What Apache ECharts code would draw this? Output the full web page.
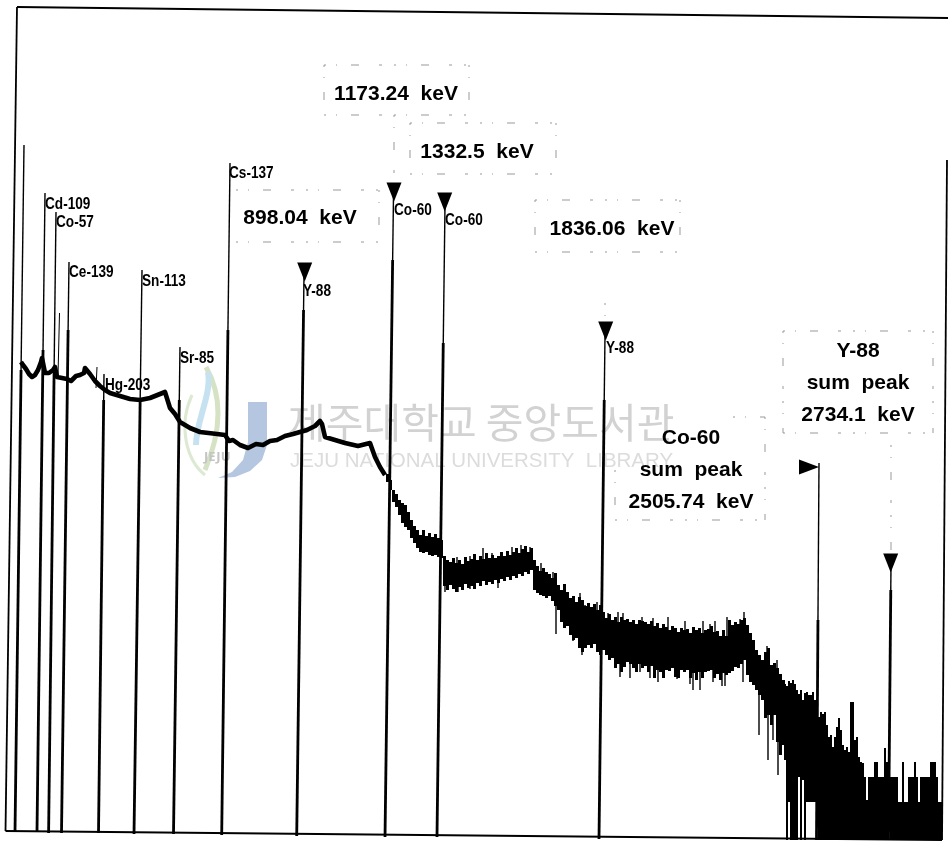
<!DOCTYPE html>
<html>
<head>
<meta charset="utf-8">
<title>spectrum</title>
<script src="https://cdn.jsdelivr.net/npm/echarts@6/dist/echarts.min.js"></script>
<style>
html, body { margin: 0; padding: 0; background: #fff; }
#main { width: 948px; height: 842px; }
</style>
</head>
<body>
<div id="main"></div>
<script>
// smooth low energy part of the spectrum
var curveX = [21, 23, 26, 29, 32, 35, 38, 41, 42, 45, 49, 53, 55, 57, 62, 67, 71, 73, 76, 80, 84, 85, 90, 95, 100, 105, 110, 120, 130, 140, 150, 160, 165, 167, 170, 175, 180, 190, 200, 217, 225, 229, 233, 240, 248, 256, 263, 270, 277, 285, 293, 300, 307, 315, 320, 322, 325, 335, 345, 358, 370, 375, 380, 385];
var curveY = [362, 365, 369, 374, 377, 375, 370, 362, 358, 373, 373, 370, 367, 377, 378, 379, 381, 380, 376, 375, 373, 368, 374, 381, 386, 390, 393, 396, 399, 400, 398, 394, 392, 394, 408, 414, 422, 428, 432, 434, 435, 441, 440, 445, 448, 444, 445, 441, 440, 436, 434, 432, 430, 426, 421, 424, 437, 440, 443, 446, 443, 457, 467, 475];

// noisy part, one channel every 3 px from noiseStart
var noiseStart = 386;
var noiseHi = [474, 480, 490, 494, 500, 503, 505, 512, 520, 526, 530, 535, 530, 536, 533, 537, 534, 538, 540,
  556, 560, 562, 558, 563, 560, 564, 557, 561, 559, 554, 560, 556, 559, 553, 558, 555, 558, 556, 552, 556, 551, 555, 552, 548, 553, 549, 546, 552, 548, 560, 566, 571,
  568, 572, 574, 578, 573, 585, 590, 584, 592, 598, 596, 602, 597, 600, 606, 603, 607, 604, 610, 605, 612,
  618, 614, 620, 617, 622, 617, 620, 619, 622, 620, 624, 620, 621, 622, 624, 621, 626, 623, 628, 624, 627, 630, 626, 628, 632, 628, 630, 629, 633, 627, 630, 628, 633, 630, 629, 626, 632, 631, 636, 630, 636, 620, 625, 622, 624, 620, 618, 625, 633,
  640, 650, 655, 660, 652, 648, 665, 663, 668, 674, 680];
var noiseLo = [482, 490, 502, 507, 515, 523, 527, 530, 538, 543, 548, 552, 553, 552, 555, 556, 555, 557, 558,
  586, 590, 585, 589, 592, 587, 590, 584, 588, 586, 589, 583, 586, 581, 585, 582, 584, 580, 583, 579, 581, 577, 580, 576, 578, 574, 576, 572, 574, 570, 590, 593, 595,
  596, 598, 596, 601, 606, 610, 622, 628, 626, 635, 640, 638, 648, 652, 648, 645, 648, 644, 652, 655, 650,
  655, 660, 658, 668, 664, 672, 667, 662, 664, 668, 672, 664, 668, 666, 672, 666, 678, 670, 672, 678, 670, 671, 668, 677, 678, 670, 672, 670, 678, 673, 680, 672, 678, 672, 671, 670, 678, 674, 680, 673, 675, 673, 671, 667, 668, 664, 660, 675, 682,
  685, 690, 695, 700, 718, 715, 725, 715, 742, 755, 745];

// single channel outliers sticking out of the noise band
var whiskerX = [483, 492, 512, 521, 530, 470, 457, 445, 458, 470, 498, 523, 541, 553, 580, 585, 597, 608, 618, 623, 642, 653, 668, 685, 703, 710, 715, 727, 740, 744, 556, 573, 582, 620, 630, 640, 650, 658, 677, 690, 693, 700, 713, 722, 725, 743, 759, 768, 773, 778, 767, 777];
var whiskerTop = [548, 553, 547, 545, 547, 556, 557, 570, 570, 570, 570, 560, 563, 572, 593, 605, 602, 613, 612, 613, 617, 618, 617, 621, 621, 624, 621, 617, 619, 612, 600, 625, 630, 650, 650, 650, 650, 650, 650, 650, 650, 650, 650, 650, 650, 650, 690, 700, 700, 700, 646, 660];
var whiskerBot = [570, 570, 565, 565, 560, 570, 570, 592, 592, 589, 588, 574, 590, 590, 620, 625, 630, 640, 640, 640, 640, 645, 640, 645, 645, 645, 645, 640, 640, 640, 634, 641, 655, 677, 678, 672, 678, 682, 679, 684, 690, 690, 682, 686, 686, 682, 735, 760, 740, 775, 680, 700];

// tail where counts fall to single digits, one channel every 2 px from tailStart
var tailStart = 784;
var tailHi = [684, 686, 681, 683, 680, 684, 690, 694, 690, 700, 693, 692, 695, 695, 692, 700, 840,
  717, 712, 714, 712, 725, 737, 735, 747, 737, 727, 718, 730, 745, 750, 747, 752, 702, 702, 740, 737, 757, 762, 763, 777, 800, 777, 777, 777, 762, 762, 777, 777, 777, 748, 762, 777, 777, 777, 777, 777, 802, 802, 762, 802, 802, 777, 777, 777, 762, 777, 802, 777, 777, 777, 777, 777, 762, 762, 762, 777, 802, 802];
var tailLo = [760, 840, 802, 840, 840, 840, 840, 777, 840, 780, 840, 802, 802, 802, 802, 802, 840,
  840, 840, 840, 840, 840, 840, 840, 840, 840, 840, 840, 840, 840, 840, 840, 840, 840, 840, 840, 840, 840, 840, 840, 840, 840, 840, 840, 840, 840, 840, 840, 840, 840, 840, 840, 790, 840, 840, 840, 840, 840, 840, 840, 840, 840, 840, 840, 840, 840, 840, 840, 840, 840, 840, 840, 840, 840, 840, 840, 840, 840, 840];

// peak lines, they lean a little because the page was scanned crooked
var spikeTopX = [24, 45, 56, 69, 104, 142, 180, 230, 304, 393.5, 445, 605, 819, 891];
var spikeTopY = [145, 193, 212, 262, 374, 270, 347, 163, 275, 195, 205, 335, 463, 565];
var spikeBotX = [15, 37, 48.6, 61.5, 98.5, 134, 173.5, 221.7, 296.7, 385, 437, 599, 816.5, 888.5];
var spikeBotY = [832, 832, 833, 833, 833, 834, 834, 835, 836, 837, 837, 839, 840, 840];
var spikeThickY = [370, 350, 370, 330, 400, 400, 400, 330, 310, 260, 343, 400, 620, 590];
var smallTopX = [59.5, 97];
var smallTopY = [313, 367];
var smallBotX = [58, 96];
var smallBotY = [376, 388];

// frame, the right side only starts part way down on the scan
var frameX = [948, 17, 5.5, 942, 947];
var frameY = [18, 7, 831, 840, 160];

// arrow heads
var arrowX = [304.7, 394, 444.7, 605.7, 890.7];
var arrowY = [272, 192, 202, 331, 563];
var sideArrowX = [809];
var sideArrowY = [467];

// dotted note boxes and leaders [x1, y1, x2, y2]
var boxes = [
  [324, 65, 469, 65], [324, 65, 324, 115], [469, 65, 469, 115], [324, 115, 469, 115],
  [410, 123, 556, 123], [410, 123, 410, 174], [556, 123, 556, 174], [410, 174, 556, 174],
  [236, 190, 379, 190], [379, 190, 379, 242], [236, 242, 379, 242],
  [535, 200, 680, 200], [535, 200, 535, 252], [680, 200, 680, 252], [535, 252, 680, 252],
  [783, 331, 933, 331], [783, 331, 783, 433], [933, 331, 933, 433], [783, 433, 933, 433],
  [733, 417, 765, 417], [765, 417, 765, 520], [615, 470, 615, 520], [615, 520, 765, 520],
  [394, 115, 394, 183], [605, 303, 605, 321], [891, 445, 891, 553]
];

var peakNames = ['Cd-109', 'Co-57', 'Ce-139', 'Sn-113', 'Hg-203', 'Sr-85', 'Cs-137', 'Y-88', 'Co-60', 'Co-60', 'Y-88'];
var peakNameX = [45, 56, 69, 142, 105, 180, 229, 303, 394, 445, 606];
var peakNameY = [204, 222, 272, 281, 385, 358, 173, 291, 210, 220, 348];

var noteTexts = ['898.04  keV', '1173.24  keV', '1332.5  keV', '1836.06  keV', 'Y-88\nsum  peak\n2734.1  keV', 'Co-60\nsum  peak\n2505.74  keV'];
var noteX = [300, 396, 477, 612, 858, 691];
var noteY = [218, 94, 152, 229, 383, 470];

var curve = [];
for (var i = 0; i < curveX.length; i++) {
    curve.push([curveX[i], curveY[i]]);
}

var bars = [];
for (var i = 0; i < noiseHi.length; i++) {
    bars.push([noiseStart + i * 3, noiseHi[i], noiseStart + (i + 1) * 3, noiseLo[i]]);
}
for (var i = 0; i < tailHi.length; i++) {
    bars.push([tailStart + i * 2, tailHi[i], tailStart + (i + 1) * 2, tailLo[i]]);
}

var segs = [];
for (var i = 0; i < spikeTopX.length; i++) {
    var k = (spikeThickY[i] - spikeTopY[i]) / (spikeBotY[i] - spikeTopY[i]);
    var midX = spikeTopX[i] + (spikeBotX[i] - spikeTopX[i]) * k;
    segs.push([spikeTopX[i], spikeTopY[i], midX, spikeThickY[i], 1.4]);
    segs.push([midX, spikeThickY[i], spikeBotX[i], spikeBotY[i], 2.8]);
}
for (var i = 0; i < smallTopX.length; i++) {
    segs.push([smallTopX[i], smallTopY[i], smallBotX[i], smallBotY[i], 1]);
}
for (var i = 0; i < frameX.length - 1; i++) {
    segs.push([frameX[i], frameY[i], frameX[i + 1], frameY[i + 1], 1.8]);
}
for (var i = 0; i < whiskerX.length; i++) {
    segs.push([whiskerX[i], whiskerTop[i], whiskerX[i], whiskerBot[i], 1.4]);
}

function drawSeg(params, api) {
    var a = api.coord([api.value(0), api.value(1)]);
    var b = api.coord([api.value(2), api.value(3)]);
    return {
        type: 'line',
        shape: { x1: a[0], y1: a[1], x2: b[0], y2: b[1] },
        style: { stroke: '#000', lineWidth: api.value(4), fill: null }
    };
}

function drawDots(params, api) {
    var a = api.coord([api.value(0), api.value(1)]);
    var b = api.coord([api.value(2), api.value(3)]);
    return {
        type: 'line',
        shape: { x1: a[0], y1: a[1], x2: b[0], y2: b[1] },
        style: { stroke: '#999', lineWidth: 1, lineDash: [2, 10, 1, 14, 8, 20, 3, 12], fill: null }
    };
}

function drawBar(params, api) {
    var a = api.coord([api.value(0), api.value(1)]);
    var b = api.coord([api.value(2), api.value(3)]);
    return {
        type: 'rect',
        shape: { x: a[0], y: a[1], width: b[0] - a[0], height: b[1] - a[1] },
        style: { fill: '#000' }
    };
}

// the peak names are tall and narrow on the original
function drawName(params, api) {
    var p = api.coord([api.value(0), api.value(1)]);
    return {
        type: 'text',
        x: p[0],
        y: p[1],
        scaleX: 0.8,
        style: {
            text: peakNames[params.dataIndex],
            fill: '#000',
            font: 'bold 17px "Liberation Sans"',
            align: 'left',
            verticalAlign: 'middle'
        }
    };
}

var myChart = echarts.init(document.getElementById('main'), null, { renderer: 'canvas' });

var option = {
    animation: false,
    backgroundColor: '#fff',
    grid: { left: 0, right: 0, top: 0, bottom: 0 },
    xAxis: { type: 'value', min: 0, max: 948, show: false },
    yAxis: { type: 'value', min: 0, max: 842, inverse: true, show: false },
    // library stamp behind the plot
    graphic: [
        { type: 'bezierCurve', z: 0, shape: { x1: 206, y1: 367, x2: 205, y2: 470, cpx1: 222, cpy1: 395, cpx2: 222, cpy2: 430 },
          style: { fill: null, stroke: '#d5e3c4', lineWidth: 5 } },
        { type: 'bezierCurve', z: 0, shape: { x1: 208, y1: 372, x2: 196, y2: 445, cpx1: 212, cpy1: 395, cpx2: 196, cpy2: 420 },
          style: { fill: null, stroke: '#c6e2f0', lineWidth: 6 } },
        { type: 'bezierCurve', z: 0, shape: { x1: 192, y1: 395, x2: 205, y2: 475, cpx1: 178, cpy1: 425, cpx2: 186, cpy2: 460 },
          style: { fill: null, stroke: '#dde9d2', lineWidth: 3 } },
        { type: 'polygon', z: 0, shape: { points: [[248, 402], [267, 402], [267, 445], [262, 460], [250, 471], [235, 477], [218, 478], [232, 472], [243, 460], [248, 442]] },
          style: { fill: '#b4c6e0' } },
        { type: 'text', z: 0, style: { x: 204, y: 451, text: 'JEJU', fill: '#c4c4c4', font: 'bold 13px "Noto Sans"' } },
        { type: 'text', z: 0, style: { x: 288, y: 402, text: '제주대학교 중앙도서관', fill: '#d2d2d2', font: '41px "Noto Sans CJK KR"' } },
        { type: 'text', z: 0, style: { x: 290, y: 451, text: 'JEJU NATIONAL UNIVERSITY  LIBRARY', fill: '#dcdcdc', font: '20.5px "Liberation Sans"' } }
    ],
    series: [
        {
            type: 'custom', coordinateSystem: 'cartesian2d', clip: false, silent: true, z: 3,
            renderItem: drawBar, data: bars, encode: { x: [0, 2], y: [1, 3] }
        },
        {
            type: 'line', data: curve, symbol: 'none', silent: true, z: 3,
            lineStyle: { color: '#000', width: 4.6, join: 'round' }
        },
        {
            type: 'custom', coordinateSystem: 'cartesian2d', clip: false, silent: true, z: 2,
            renderItem: drawDots, data: boxes, encode: { x: [0, 2], y: [1, 3] }
        },
        {
            type: 'custom', coordinateSystem: 'cartesian2d', clip: false, silent: true, z: 4,
            renderItem: drawSeg, data: segs, encode: { x: [0, 2], y: [1, 3] }
        },
        {
            type: 'scatter', silent: true, z: 5,
            symbol: 'triangle', symbolRotate: 180, symbolSize: [15, 19],
            itemStyle: { color: '#000', opacity: 1 },
            data: arrowX.map(function(v, i) { return [v, arrowY[i]]; })
        },
        {
            type: 'scatter', silent: true, z: 5,
            symbol: 'triangle', symbolRotate: -90, symbolSize: [15, 20],
            itemStyle: { color: '#000', opacity: 1 },
            data: sideArrowX.map(function(v, i) { return [v, sideArrowY[i]]; })
        },
        {
            type: 'custom', coordinateSystem: 'cartesian2d', clip: false, silent: true, z: 2,
            renderItem: drawName,
            data: peakNameX.map(function(v, i) { return [v, peakNameY[i]]; }),
            encode: { x: 0, y: 1 }
        },
        {
            type: 'scatter', silent: true, z: 6, symbolSize: 0,
            itemStyle: { opacity: 1 },
            data: noteTexts.map(function(n, i) { return { name: n, value: [noteX[i], noteY[i]] }; }),
            label: {
                show: true, position: 'inside', formatter: '{b}', align: 'center', verticalAlign: 'middle',
                color: '#000', fontFamily: '"Liberation Sans", Arial, sans-serif',
                fontWeight: 'bold', fontSize: 21, lineHeight: 32
            }
        }
    ]
};

myChart.setOption(option);
</script>
</body>
</html>
